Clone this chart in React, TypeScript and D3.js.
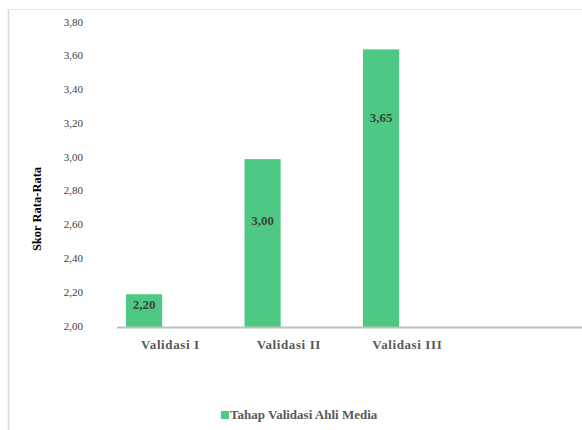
import React from 'react';
import * as d3 from 'd3';

const categories = ['Validasi I', 'Validasi II', 'Validasi III', ''];
const scores = [2.2, 3.0, 3.65];
const valueLabels = ['2,20', '3,00', '3,65'];
const yTicks = [2.0, 2.2, 2.4, 2.6, 2.8, 3.0, 3.2, 3.4, 3.6, 3.8];
const seriesName = 'Tahap Validasi Ahli Media';

const W = 582;
const H = 430;
const green = '#4dc984';
const font = 'Liberation Serif, Tinos, Times New Roman, DejaVu Serif, serif';

export default function App() {
  const x = d3.scaleBand<string>().domain(categories).range([117, 591]).paddingInner(0).paddingOuter(0);
  const y = d3.scaleLinear().domain([2, 3.8]).range([328, 24]);
  const bw = x.bandwidth();
  const barOffset = bw * 0.076;
  const barWidth = bw * 0.305;
  // manual placement of the data labels inside each bar (px below bar top)
  const labelDrop = [12, 63, 70];
  const fmt = (v: number) => v.toFixed(2).replace('.', ',');

  return (
    <svg width={W} height={H} style={{ position: 'absolute', left: 0, top: 0, fontFamily: font }}>
      <rect x={0} y={0} width={W} height={H} fill="#fff" />
      <line x1={8.5} y1={9} x2={8.5} y2={H} stroke="#d9d9d9" strokeWidth={1.5} />
      <line x1={8} y1={9.5} x2={W} y2={9.5} stroke="#e6e6e6" strokeWidth={1} />

      {yTicks.map(t => (
        <text key={t} x={83} y={y(t) - 1} textAnchor="end" dominantBaseline="middle"
          style={{ fontFamily: font }} fontSize={11} fill="#404040">{fmt(t)}</text>
      ))}

      <text transform={`translate(41,209) rotate(-90)`} textAnchor="middle" style={{ fontFamily: font }}
        fontSize={12.5} fontWeight="bold" fill="#000">Skor Rata-Rata</text>

      {scores.map((v, i) => {
        const x0 = (x(categories[i]) ?? 0) + barOffset;
        return (
          <g key={categories[i]}>
            <rect x={x0} y={y(v)} width={barWidth} height={y(2) - y(v)} fill={green} />
            <text x={x0 + barWidth / 2} y={y(v) + labelDrop[i]} textAnchor="middle" dominantBaseline="middle"
              style={{ fontFamily: font }} fontSize={13} fontWeight="bold" fill="#404040">{valueLabels[i]}</text>
          </g>
        );
      })}

      <line x1={117} y1={327.5} x2={W} y2={327.5} stroke="#bfbfbf" strokeWidth={2} />

      {categories.filter(c => c).map(c => (
        <text key={c} x={(x(c) ?? 0) + bw * 0.45} y={346} textAnchor="middle" dominantBaseline="middle"
          style={{ fontFamily: font }} fontSize={13} fontWeight="bold" fill="#595959" letterSpacing={0.6}>{c}</text>
      ))}

      <rect x={221} y={411} width={8} height={8} fill={green} />
      <text x={230} y={419} style={{ fontFamily: font }} fontSize={13} fontWeight="bold" fill="#595959">{seriesName}</text>
    </svg>
  );
}
